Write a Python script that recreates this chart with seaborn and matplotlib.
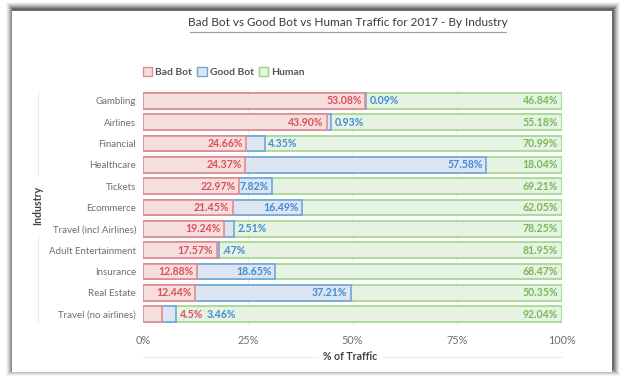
import matplotlib
matplotlib.use("Agg")
import matplotlib.pyplot as plt
import matplotlib.patches as mpatches
from matplotlib.lines import Line2D
import seaborn as sns
import pandas as pd
import numpy as np

industries = ["Gambling", "Airlines", "Financial", "Healthcare", "Tickets", "Ecommerce",
              "Travel (incl Airlines)", "Adult Entertainment", "Insurance", "Real Estate",
              "Travel (no airlines)"]
bad_bot = [53.08, 43.90, 24.66, 24.37, 22.97, 21.45, 19.24, 17.57, 12.88, 12.44, 4.5]
good_bot = [0.09, 0.93, 4.35, 57.58, 7.82, 16.49, 2.51, 0.47, 18.65, 37.21, 3.46]
human = [46.84, 55.18, 70.99, 18.04, 69.21, 62.05, 78.25, 81.95, 68.47, 50.35, 92.04]
bad_labels = ["53.08%", "43.90%", "24.66%", "24.37%", "22.97%", "21.45%", "19.24%", "17.57%", "12.88%", "12.44%", "4.5%"]
good_labels = ["0.09%", "0.93%", "4.35%", "57.58%", "7.82%", "16.49%", "2.51%", ".47%", "18.65%", "37.21%", "3.46%"]
human_labels = ["46.84%", "55.18%", "70.99%", "18.04%", "69.21%", "62.05%", "78.25%", "81.95%", "68.47%", "50.35%", "92.04%"]
x_ticks = [0, 25, 50, 75, 100]
x_tick_labels = ["0%", "25%", "50%", "75%", "100%"]

sns.set_theme(style="white")
plt.rcParams["font.family"] = ["Lato", "DejaVu Sans"]

RED_F, RED_E, RED_T = "#f6dedd", "#e58b93", "#d9505e"
BLU_F, BLU_E, BLU_T = "#dde4f2", "#6fa6dc", "#3e8ed6"
GRN_F, GRN_E, GRN_T = "#e7f3e2", "#9dd58a", "#78b858"
GRAY = "#6f6f6f"

df = pd.DataFrame({"Industry": industries, "bad": bad_bot, "good": good_bot, "human": human})
df["c_good"] = df["bad"] + df["good"]
df["c_human"] = df["c_good"] + df["human"]

fig = plt.figure(figsize=(6.24, 3.82), dpi=100)
fig.patch.set_facecolor("white")

# card shadow
W, H = 624, 382
for i, a in enumerate([0.04, 0.06, 0.08, 0.10, 0.13, 0.17, 0.22]):
    d = 7 - i
    fig.patches.append(mpatches.Rectangle(((12 - d + 1) / W, (H - 372 - d + 3) / H),
                                          (600 + 2 * d) / W, (361 + 2 * d - 1) / H,
                                          transform=fig.transFigure, facecolor="black",
                                          alpha=a, edgecolor="none", zorder=0))
fig.patches.append(mpatches.Rectangle((12 / W, (H - 372) / H), 600 / W, 361 / H,
                                      transform=fig.transFigure, facecolor="white",
                                      edgecolor="none", zorder=1))

ax = fig.add_axes([143 / W, 1 - 325 / H, 419 / W, 235 / H])
ax.set_zorder(2)
ax.patch.set_alpha(0)

bh = 0.74
sns.barplot(data=df, y="Industry", x="c_human", orient="h", color=GRN_F, edgecolor=GRN_E,
            linewidth=1.2, width=bh, ax=ax, saturation=1)
sns.barplot(data=df, y="Industry", x="c_good", orient="h", color=BLU_F, edgecolor=BLU_E,
            linewidth=1.2, width=bh, ax=ax, saturation=1)
sns.barplot(data=df, y="Industry", x="bad", orient="h", color=RED_F, edgecolor=RED_E,
            linewidth=1.2, width=bh, ax=ax, saturation=1)

fs = 7.6
for i in range(len(industries)):
    b, g, ch = bad_bot[i], df["c_good"][i], df["c_human"][i]
    if b > 8:
        ax.annotate(bad_labels[i], (b, i), xytext=(-2.5, 0), textcoords="offset points",
                    ha="right", va="center", color=RED_T, fontsize=fs, fontweight="bold")
        gx_off = 2.5
    else:
        ax.annotate(bad_labels[i], (g, i), xytext=(2.5, 0), textcoords="offset points",
                    ha="left", va="center", color=RED_T, fontsize=fs, fontweight="bold")
        gx_off = 22
    if good_bot[i] > 7:
        ax.annotate(good_labels[i], (g, i), xytext=(-2.5, 0), textcoords="offset points",
                    ha="right", va="center", color=BLU_T, fontsize=fs, fontweight="bold")
    else:
        ax.annotate(good_labels[i], (g, i), xytext=(gx_off, 0), textcoords="offset points",
                    ha="left", va="center", color=BLU_T, fontsize=fs, fontweight="bold")
    ax.annotate(human_labels[i], (min(ch, 100), i), xytext=(-3, 0), textcoords="offset points",
                ha="right", va="center", color=GRN_T, fontsize=fs, fontweight="bold")

ax.set_xlim(0, 100)
ax.set_ylim(len(industries) - 0.5, -0.5)
ax.set_xticks(x_ticks)
ax.set_xticklabels(x_tick_labels, color=GRAY, fontsize=7.8)
ax.tick_params(axis="y", labelsize=7.0, labelcolor=GRAY, length=0, pad=5)
ax.tick_params(axis="x", length=0, pad=7)
for xv in x_ticks[1:-1]:
    ax.axvline(xv, color="#ececec", lw=0.8, zorder=0)
for s in ax.spines.values():
    s.set_visible(False)
ax.set_xlabel("")
ax.set_ylabel("")

# axis titles with lines
fig.text(350 / W, 1 - 357 / H, "% of Traffic", ha="center", va="center", fontsize=7.6,
         fontweight="bold", color="#444444", zorder=5)
fig.add_artist(Line2D([143 / W, 318 / W], [1 - 357 / H] * 2, color="#e6edf3", lw=0.8))
fig.add_artist(Line2D([383 / W, 562 / W], [1 - 357 / H] * 2, color="#e6edf3", lw=0.8))
fig.text(38 / W, 1 - 205 / H, "Industry", ha="center", va="center", rotation=90, fontsize=7.6,
         fontweight="bold", color="#444444", zorder=5)
fig.add_artist(Line2D([38 / W] * 2, [1 - 90 / H, 1 - 176 / H], color="#e6edf3", lw=0.8))
fig.add_artist(Line2D([38 / W] * 2, [1 - 234 / H, 1 - 322 / H], color="#e6edf3", lw=0.8))

# title
fig.text(348 / W, 1 - 23 / H, "Bad Bot vs Good Bot vs Human Traffic for 2017 - By Industry",
         ha="center", va="center", fontsize=8.5, color="#3a3a3a")
fig.add_artist(Line2D([190 / W, 506 / W], [1 - 32 / H] * 2, color="#9aa2a8", lw=0.9))

handles = [mpatches.Patch(facecolor=RED_F, edgecolor=RED_E, label="Bad Bot"),
           mpatches.Patch(facecolor=BLU_F, edgecolor=BLU_E, label="Good Bot"),
           mpatches.Patch(facecolor=GRN_F, edgecolor=GRN_E, label="Human")]
leg = fig.legend(handles=handles, loc="center left", bbox_to_anchor=(143 / W, 1 - 72 / H),
                 ncol=3, frameon=False, fontsize=7.4, handlelength=0.9, handleheight=0.9,
                 handletextpad=0.3, columnspacing=0.5, borderaxespad=0, borderpad=0)
for t in leg.get_texts():
    t.set_color("#555555")
    t.set_fontweight("bold")

fig.savefig("out.png", dpi=100)
